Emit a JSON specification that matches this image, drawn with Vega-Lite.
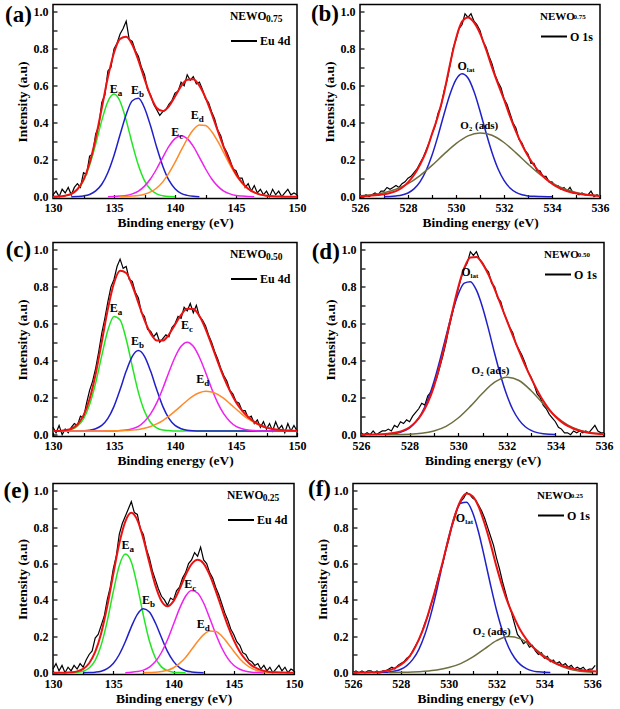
{
"$schema":"https://vega.github.io/schema/vega-lite/v6.json",
"background":"white",
"padding":{"left":2,"top":2.5,"right":0,"bottom":0},
"spacing":8,
"resolve":{"scale":{"stroke":"independent"},"legend":{"stroke":"independent"}},
"config":{
 "view":{"stroke":"black","strokeWidth":1.5},
 "axis":{"labelFont":"Liberation Serif","labelFontWeight":"bold","labelFontSize":12,"labelColor":"black","titleFont":"Liberation Serif","titleFontWeight":"bold","titleFontSize":13.5,"titleColor":"black","grid":false,"domain":false,"tickColor":"black","tickSize":-4,"tickWidth":1.2,"labelPadding":8,"labelFlush":false,"labelOverlap":false,"titlePadding":2},
 "axisY":{"titlePadding":4,"labelPadding":9},
 "legend":{"orient":"top-right","offset":6,"padding":0,"symbolType":"stroke","symbolSize":676,"symbolStrokeWidth":2,"labelFont":"Liberation Serif","labelFontWeight":"bold","labelFontSize":12,"labelColor":"black","labelOffset":2,"titleFont":"Liberation Serif","titleFontWeight":"bold","titleFontSize":11.5,"titleColor":"black","titleAnchor":"start","titlePadding":5},
 "text":{"font":"Liberation Serif","fontWeight":"bold","color":"black"}
},
"datasets":{
"labels":[
{"p":"a","k":"tag","t":"(a)","x":127.17,"y":0.985},
{"p":"b","k":"tag","t":"(b)","x":524.54,"y":0.987},
{"p":"c","k":"tag","t":"(c)","x":127.17,"y":0.997},
{"p":"d","k":"tag","t":"(d)","x":524.55,"y":0.988},
{"p":"e","k":"tag","t":"(e)","x":126.96,"y":1.0},
{"p":"f","k":"tag","t":"(f)","x":524.6,"y":1.009},
{"p":"a","k":"nsub","t":"0.75","x":147.45,"y":0.962},
{"p":"c","k":"nsub","t":"0.50","x":147.45,"y":0.962},
{"p":"e","k":"nsub","t":"0.25","x":147.4,"y":0.96},
{"p":"b","k":"nsub","t":"0.75","x":534.9,"y":0.97},
{"p":"d","k":"nsub","t":"0.50","x":534.92,"y":0.97},
{"p":"f","k":"nsub","t":"0.25","x":535.1,"y":0.969},
{"p":"a","k":"E","t":"E","u":"a","x":135.3,"y":0.582},
{"p":"a","k":"E","t":"E","u":"b","x":137.05,"y":0.579},
{"p":"a","k":"E","t":"E","u":"c","x":140.35,"y":0.35},
{"p":"a","k":"E","t":"E","u":"d","x":141.95,"y":0.44},
{"p":"c","k":"E","t":"E","u":"a","x":135.3,"y":0.688},
{"p":"c","k":"E","t":"E","u":"b","x":137.05,"y":0.508},
{"p":"c","k":"E","t":"E","u":"c","x":141.15,"y":0.596},
{"p":"c","k":"E","t":"E","u":"d","x":142.4,"y":0.3},
{"p":"e","k":"E","t":"E","u":"a","x":136.35,"y":0.704},
{"p":"e","k":"E","t":"E","u":"b","x":138.05,"y":0.4},
{"p":"e","k":"E","t":"E","u":"c","x":141.55,"y":0.49},
{"p":"e","k":"E","t":"E","u":"d","x":142.6,"y":0.267},
{"p":"b","k":"O","t":"O","u":"lat","x":530.45,"y":0.705},
{"p":"d","k":"O","t":"O","u":"lat","x":530.51,"y":0.88},
{"p":"f","k":"O","t":"O","u":"lat","x":530.69,"y":0.852},
{"p":"b","k":"ads","t":"O₂ (ads)","x":530.97,"y":0.382},
{"p":"d","k":"ads","t":"O₂ (ads)","x":531.33,"y":0.343},
{"p":"f","k":"ads","t":"O₂ (ads)","x":531.8,"y":0.221}
],
"ra":[{"x":130,"y":0.01},{"x":130.25,"y":0.03},{"x":130.5,"y":0},{"x":130.75,"y":0.04},{"x":131,"y":0.02},{"x":131.25,"y":0.05},{"x":131.5,"y":0.01},{"x":131.75,"y":0.05},{"x":132,"y":0.07},{"x":132.25,"y":0.05},{"x":132.5,"y":0.13},{"x":132.75,"y":0.12},{"x":133,"y":0.22},{"x":133.25,"y":0.23},{"x":133.5,"y":0.34},{"x":133.75,"y":0.38},{"x":134,"y":0.51},{"x":134.25,"y":0.55},{"x":134.5,"y":0.68},{"x":134.75,"y":0.7},{"x":135,"y":0.8},{"x":135.25,"y":0.83},{"x":135.5,"y":0.88},{"x":135.75,"y":0.91},{"x":136,"y":0.95},{"x":136.25,"y":0.85},{"x":136.5,"y":0.84},{"x":136.75,"y":0.79},{"x":137,"y":0.76},{"x":137.25,"y":0.7},{"x":137.5,"y":0.66},{"x":137.75,"y":0.58},{"x":138,"y":0.55},{"x":138.25,"y":0.5},{"x":138.5,"y":0.47},{"x":138.75,"y":0.44},{"x":139,"y":0.46},{"x":139.25,"y":0.47},{"x":139.5,"y":0.5},{"x":139.75,"y":0.52},{"x":140,"y":0.56},{"x":140.25,"y":0.57},{"x":140.5,"y":0.62},{"x":140.75,"y":0.6},{"x":141,"y":0.66},{"x":141.25,"y":0.63},{"x":141.5,"y":0.65},{"x":141.75,"y":0.61},{"x":142,"y":0.62},{"x":142.25,"y":0.58},{"x":142.5,"y":0.53},{"x":142.75,"y":0.51},{"x":143,"y":0.46},{"x":143.25,"y":0.42},{"x":143.5,"y":0.36},{"x":143.75,"y":0.33},{"x":144,"y":0.27},{"x":144.25,"y":0.24},{"x":144.5,"y":0.2},{"x":144.75,"y":0.15},{"x":145,"y":0.14},{"x":145.25,"y":0.1},{"x":145.5,"y":0.1},{"x":145.75,"y":0.05},{"x":146,"y":0.07},{"x":146.25,"y":0.03},{"x":146.5,"y":0.06},{"x":146.75,"y":0.02},{"x":147,"y":0.04},{"x":147.25,"y":0.01},{"x":147.5,"y":0.03},{"x":147.75,"y":0},{"x":148,"y":0.04},{"x":148.25,"y":0.01},{"x":148.5,"y":0.03},{"x":148.75,"y":0},{"x":149,"y":0.02},{"x":149.25,"y":0.04},{"x":149.5,"y":0.01},{"x":149.75,"y":0.02},{"x":150,"y":0.01}],
"ca":[
{"s":"Ea","x":130,"y":0},{"s":"Ea","x":130.5,"y":0.001},{"s":"Ea","x":131,"y":0.005},{"s":"Ea","x":131.5,"y":0.015},{"s":"Ea","x":132,"y":0.039},{"s":"Ea","x":132.5,"y":0.087},{"s":"Ea","x":133,"y":0.17},{"s":"Ea","x":133.5,"y":0.285},{"s":"Ea","x":134,"y":0.413},{"s":"Ea","x":134.5,"y":0.515},{"s":"Ea","x":135,"y":0.555},{"s":"Ea","x":135.5,"y":0.515},{"s":"Ea","x":136,"y":0.413},{"s":"Ea","x":136.5,"y":0.285},{"s":"Ea","x":137,"y":0.17},{"s":"Ea","x":137.5,"y":0.087},{"s":"Ea","x":138,"y":0.039},{"s":"Ea","x":138.5,"y":0.015},{"s":"Ea","x":139,"y":0.005},{"s":"Ea","x":139.5,"y":0.001},{"s":"Ea","x":140,"y":0},
{"s":"Eb","x":131.5,"y":0},{"s":"Eb","x":132,"y":0.001},{"s":"Eb","x":132.5,"y":0.004},{"s":"Eb","x":133,"y":0.012},{"s":"Eb","x":133.5,"y":0.031},{"s":"Eb","x":134,"y":0.067},{"s":"Eb","x":134.5,"y":0.131},{"s":"Eb","x":135,"y":0.223},{"s":"Eb","x":135.5,"y":0.336},{"s":"Eb","x":136,"y":0.445},{"s":"Eb","x":136.5,"y":0.519},{"s":"Eb","x":137,"y":0.532},{"s":"Eb","x":137.5,"y":0.48},{"s":"Eb","x":138,"y":0.382},{"s":"Eb","x":138.5,"y":0.267},{"s":"Eb","x":139,"y":0.165},{"s":"Eb","x":139.5,"y":0.089},{"s":"Eb","x":140,"y":0.043},{"s":"Eb","x":140.5,"y":0.018},{"s":"Eb","x":141,"y":0.007},{"s":"Eb","x":141.5,"y":0.002},{"s":"Eb","x":142,"y":0},
{"s":"Ec","x":134.5,"y":0},{"s":"Ec","x":135,"y":0.001},{"s":"Ec","x":135.5,"y":0.003},{"s":"Ec","x":136,"y":0.006},{"s":"Ec","x":136.5,"y":0.015},{"s":"Ec","x":137,"y":0.03},{"s":"Ec","x":137.5,"y":0.057},{"s":"Ec","x":138,"y":0.097},{"s":"Ec","x":138.5,"y":0.151},{"s":"Ec","x":139,"y":0.213},{"s":"Ec","x":139.5,"y":0.272},{"s":"Ec","x":140,"y":0.314},{"s":"Ec","x":140.5,"y":0.33},{"s":"Ec","x":141,"y":0.314},{"s":"Ec","x":141.5,"y":0.272},{"s":"Ec","x":142,"y":0.213},{"s":"Ec","x":142.5,"y":0.151},{"s":"Ec","x":143,"y":0.097},{"s":"Ec","x":143.5,"y":0.057},{"s":"Ec","x":144,"y":0.03},{"s":"Ec","x":144.5,"y":0.015},{"s":"Ec","x":145,"y":0.006},{"s":"Ec","x":145.5,"y":0.003},{"s":"Ec","x":146,"y":0.001},{"s":"Ec","x":146.5,"y":0},
{"s":"Ed","x":135.5,"y":0},{"s":"Ed","x":136,"y":0.001},{"s":"Ed","x":136.5,"y":0.003},{"s":"Ed","x":137,"y":0.006},{"s":"Ed","x":137.5,"y":0.013},{"s":"Ed","x":138,"y":0.026},{"s":"Ed","x":138.5,"y":0.047},{"s":"Ed","x":139,"y":0.08},{"s":"Ed","x":139.5,"y":0.127},{"s":"Ed","x":140,"y":0.185},{"s":"Ed","x":140.5,"y":0.25},{"s":"Ed","x":141,"y":0.312},{"s":"Ed","x":141.5,"y":0.362},{"s":"Ed","x":142,"y":0.388},{"s":"Ed","x":142.5,"y":0.385},{"s":"Ed","x":143,"y":0.353},{"s":"Ed","x":143.5,"y":0.3},{"s":"Ed","x":144,"y":0.237},{"s":"Ed","x":144.5,"y":0.173},{"s":"Ed","x":145,"y":0.116},{"s":"Ed","x":145.5,"y":0.073},{"s":"Ed","x":146,"y":0.042},{"s":"Ed","x":146.5,"y":0.023},{"s":"Ed","x":147,"y":0.011},{"s":"Ed","x":147.5,"y":0.005},{"s":"Ed","x":148,"y":0.002},{"s":"Ed","x":148.5,"y":0.001},{"s":"Ed","x":149,"y":0},
{"s":"fit","x":130,"y":0},{"s":"fit","x":130.5,"y":0.001},{"s":"fit","x":131,"y":0.005},{"s":"fit","x":131.5,"y":0.015},{"s":"fit","x":132,"y":0.04},{"s":"fit","x":132.5,"y":0.091},{"s":"fit","x":133,"y":0.182},{"s":"fit","x":133.5,"y":0.316},{"s":"fit","x":134,"y":0.48},{"s":"fit","x":134.5,"y":0.646},{"s":"fit","x":135,"y":0.779},{"s":"fit","x":135.5,"y":0.854},{"s":"fit","x":136,"y":0.865},{"s":"fit","x":136.5,"y":0.822},{"s":"fit","x":137,"y":0.738},{"s":"fit","x":137.5,"y":0.637},{"s":"fit","x":138,"y":0.544},{"s":"fit","x":138.5,"y":0.48},{"s":"fit","x":139,"y":0.463},{"s":"fit","x":139.5,"y":0.489},{"s":"fit","x":140,"y":0.542},{"s":"fit","x":140.5,"y":0.598},{"s":"fit","x":141,"y":0.633},{"s":"fit","x":141.5,"y":0.636},{"s":"fit","x":142,"y":0.601},{"s":"fit","x":142.5,"y":0.536},{"s":"fit","x":143,"y":0.45},{"s":"fit","x":143.5,"y":0.357},{"s":"fit","x":144,"y":0.267},{"s":"fit","x":144.5,"y":0.188},{"s":"fit","x":145,"y":0.122},{"s":"fit","x":145.5,"y":0.076},{"s":"fit","x":146,"y":0.043},{"s":"fit","x":146.5,"y":0.023},{"s":"fit","x":147,"y":0.011},{"s":"fit","x":147.5,"y":0.005},{"s":"fit","x":148,"y":0.002},{"s":"fit","x":148.5,"y":0.001},{"s":"fit","x":149,"y":0},{"s":"fit","x":150,"y":0}
],
"rc":[{"x":130,"y":0.04},{"x":130.25,"y":0.01},{"x":130.5,"y":0.05},{"x":130.75,"y":0},{"x":131,"y":0.03},{"x":131.25,"y":0.01},{"x":131.5,"y":0.04},{"x":131.75,"y":0.06},{"x":132,"y":0.05},{"x":132.25,"y":0.1},{"x":132.5,"y":0.09},{"x":132.75,"y":0.17},{"x":133,"y":0.24},{"x":133.25,"y":0.29},{"x":133.5,"y":0.36},{"x":133.75,"y":0.45},{"x":134,"y":0.55},{"x":134.25,"y":0.63},{"x":134.5,"y":0.72},{"x":134.75,"y":0.8},{"x":135,"y":0.84},{"x":135.25,"y":0.91},{"x":135.5,"y":0.95},{"x":135.75,"y":0.9},{"x":136,"y":0.91},{"x":136.25,"y":0.84},{"x":136.5,"y":0.83},{"x":136.75,"y":0.77},{"x":137,"y":0.74},{"x":137.25,"y":0.66},{"x":137.5,"y":0.64},{"x":137.75,"y":0.57},{"x":138,"y":0.56},{"x":138.25,"y":0.53},{"x":138.5,"y":0.55},{"x":138.75,"y":0.5},{"x":139,"y":0.52},{"x":139.25,"y":0.54},{"x":139.5,"y":0.53},{"x":139.75,"y":0.58},{"x":140,"y":0.6},{"x":140.25,"y":0.64},{"x":140.5,"y":0.63},{"x":140.75,"y":0.69},{"x":141,"y":0.67},{"x":141.25,"y":0.71},{"x":141.5,"y":0.66},{"x":141.75,"y":0.7},{"x":142,"y":0.64},{"x":142.25,"y":0.62},{"x":142.5,"y":0.59},{"x":142.75,"y":0.54},{"x":143,"y":0.5},{"x":143.25,"y":0.45},{"x":143.5,"y":0.41},{"x":143.75,"y":0.36},{"x":144,"y":0.32},{"x":144.25,"y":0.29},{"x":144.5,"y":0.24},{"x":144.75,"y":0.22},{"x":145,"y":0.18},{"x":145.25,"y":0.17},{"x":145.5,"y":0.13},{"x":145.75,"y":0.13},{"x":146,"y":0.09},{"x":146.25,"y":0.1},{"x":146.5,"y":0.06},{"x":146.75,"y":0.08},{"x":147,"y":0.04},{"x":147.25,"y":0.07},{"x":147.5,"y":0.03},{"x":147.75,"y":0.06},{"x":148,"y":0.02},{"x":148.25,"y":0.07},{"x":148.5,"y":0.03},{"x":148.75,"y":0.05},{"x":149,"y":0.01},{"x":149.25,"y":0.06},{"x":149.5,"y":0.02},{"x":149.75,"y":0.05},{"x":150,"y":0.02}],
"cc":[
{"s":"Ea","x":130,"y":0.02},{"s":"Ea","x":130.5,"y":0.021},{"s":"Ea","x":131,"y":0.022},{"s":"Ea","x":131.5,"y":0.029},{"s":"Ea","x":132,"y":0.046},{"s":"Ea","x":132.5,"y":0.086},{"s":"Ea","x":133,"y":0.163},{"s":"Ea","x":133.5,"y":0.281},{"s":"Ea","x":134,"y":0.429},{"s":"Ea","x":134.5,"y":0.566},{"s":"Ea","x":135,"y":0.64},{"s":"Ea","x":135.5,"y":0.621},{"s":"Ea","x":136,"y":0.516},{"s":"Ea","x":136.5,"y":0.369},{"s":"Ea","x":137,"y":0.229},{"s":"Ea","x":137.5,"y":0.127},{"s":"Ea","x":138,"y":0.066},{"s":"Ea","x":138.5,"y":0.037},{"s":"Ea","x":139,"y":0.025},{"s":"Ea","x":139.5,"y":0.022},{"s":"Ea","x":140,"y":0.02},{"s":"Ea","x":150,"y":0.02},
{"s":"Eb","x":130,"y":0.02},{"s":"Eb","x":132,"y":0.02},{"s":"Eb","x":132.5,"y":0.021},{"s":"Eb","x":133,"y":0.024},{"s":"Eb","x":133.5,"y":0.032},{"s":"Eb","x":134,"y":0.05},{"s":"Eb","x":134.5,"y":0.088},{"s":"Eb","x":135,"y":0.153},{"s":"Eb","x":135.5,"y":0.244},{"s":"Eb","x":136,"y":0.344},{"s":"Eb","x":136.5,"y":0.424},{"s":"Eb","x":137,"y":0.455},{"s":"Eb","x":137.5,"y":0.424},{"s":"Eb","x":138,"y":0.344},{"s":"Eb","x":138.5,"y":0.244},{"s":"Eb","x":139,"y":0.153},{"s":"Eb","x":139.5,"y":0.088},{"s":"Eb","x":140,"y":0.05},{"s":"Eb","x":140.5,"y":0.032},{"s":"Eb","x":141,"y":0.024},{"s":"Eb","x":141.5,"y":0.021},{"s":"Eb","x":142,"y":0.02},{"s":"Eb","x":150,"y":0.02},
{"s":"Ec","x":130,"y":0.02},{"s":"Ec","x":135,"y":0.02},{"s":"Ec","x":135.5,"y":0.022},{"s":"Ec","x":136,"y":0.025},{"s":"Ec","x":136.5,"y":0.032},{"s":"Ec","x":137,"y":0.045},{"s":"Ec","x":137.5,"y":0.071},{"s":"Ec","x":138,"y":0.112},{"s":"Ec","x":138.5,"y":0.172},{"s":"Ec","x":139,"y":0.25},{"s":"Ec","x":139.5,"y":0.338},{"s":"Ec","x":140,"y":0.419},{"s":"Ec","x":140.5,"y":0.478},{"s":"Ec","x":141,"y":0.5},{"s":"Ec","x":141.5,"y":0.478},{"s":"Ec","x":142,"y":0.419},{"s":"Ec","x":142.5,"y":0.338},{"s":"Ec","x":143,"y":0.25},{"s":"Ec","x":143.5,"y":0.172},{"s":"Ec","x":144,"y":0.112},{"s":"Ec","x":144.5,"y":0.071},{"s":"Ec","x":145,"y":0.045},{"s":"Ec","x":145.5,"y":0.032},{"s":"Ec","x":146,"y":0.025},{"s":"Ec","x":146.5,"y":0.022},{"s":"Ec","x":147,"y":0.02},{"s":"Ec","x":150,"y":0.02},
{"s":"Ed","x":130,"y":0.02},{"s":"Ed","x":134,"y":0.02},{"s":"Ed","x":135,"y":0.021},{"s":"Ed","x":136,"y":0.022},{"s":"Ed","x":136.5,"y":0.025},{"s":"Ed","x":137,"y":0.028},{"s":"Ed","x":137.5,"y":0.035},{"s":"Ed","x":138,"y":0.044},{"s":"Ed","x":138.5,"y":0.058},{"s":"Ed","x":139,"y":0.076},{"s":"Ed","x":139.5,"y":0.1},{"s":"Ed","x":140,"y":0.127},{"s":"Ed","x":140.5,"y":0.156},{"s":"Ed","x":141,"y":0.185},{"s":"Ed","x":141.5,"y":0.21},{"s":"Ed","x":142,"y":0.227},{"s":"Ed","x":142.5,"y":0.235},{"s":"Ed","x":143,"y":0.231},{"s":"Ed","x":143.5,"y":0.218},{"s":"Ed","x":144,"y":0.196},{"s":"Ed","x":144.5,"y":0.168},{"s":"Ed","x":145,"y":0.139},{"s":"Ed","x":145.5,"y":0.11},{"s":"Ed","x":146,"y":0.085},{"s":"Ed","x":146.5,"y":0.065},{"s":"Ed","x":147,"y":0.049},{"s":"Ed","x":147.5,"y":0.038},{"s":"Ed","x":148,"y":0.031},{"s":"Ed","x":148.5,"y":0.026},{"s":"Ed","x":149,"y":0.023},{"s":"Ed","x":149.5,"y":0.022},{"s":"Ed","x":150,"y":0.021},
{"s":"fit","x":130,"y":0.02},{"s":"fit","x":130.5,"y":0.02},{"s":"fit","x":131,"y":0.024},{"s":"fit","x":131.5,"y":0.032},{"s":"fit","x":132,"y":0.055},{"s":"fit","x":132.5,"y":0.104},{"s":"fit","x":133,"y":0.193},{"s":"fit","x":133.5,"y":0.33},{"s":"fit","x":134,"y":0.503},{"s":"fit","x":134.5,"y":0.681},{"s":"fit","x":135,"y":0.821},{"s":"fit","x":135.5,"y":0.887},{"s":"fit","x":136,"y":0.875},{"s":"fit","x":136.5,"y":0.807},{"s":"fit","x":137,"y":0.713},{"s":"fit","x":137.5,"y":0.62},{"s":"fit","x":138,"y":0.548},{"s":"fit","x":138.5,"y":0.51},{"s":"fit","x":139,"y":0.509},{"s":"fit","x":139.5,"y":0.542},{"s":"fit","x":140,"y":0.595},{"s":"fit","x":140.5,"y":0.648},{"s":"fit","x":141,"y":0.681},{"s":"fit","x":141.5,"y":0.68},{"s":"fit","x":142,"y":0.642},{"s":"fit","x":142.5,"y":0.573},{"s":"fit","x":143,"y":0.486},{"s":"fit","x":143.5,"y":0.395},{"s":"fit","x":144,"y":0.31},{"s":"fit","x":144.5,"y":0.237},{"s":"fit","x":145,"y":0.176},{"s":"fit","x":145.5,"y":0.13},{"s":"fit","x":146,"y":0.095},{"s":"fit","x":146.5,"y":0.069},{"s":"fit","x":147,"y":0.051},{"s":"fit","x":147.5,"y":0.038},{"s":"fit","x":148,"y":0.031},{"s":"fit","x":148.5,"y":0.026},{"s":"fit","x":149,"y":0.023},{"s":"fit","x":149.5,"y":0.022},{"s":"fit","x":150,"y":0.021}
],
"re":[{"x":130,"y":0.02},{"x":130.25,"y":0.05},{"x":130.5,"y":0.01},{"x":130.75,"y":0.04},{"x":131,"y":0},{"x":131.25,"y":0.03},{"x":131.5,"y":0.01},{"x":131.75,"y":0.04},{"x":132,"y":0.02},{"x":132.25,"y":0.05},{"x":132.5,"y":0.03},{"x":132.75,"y":0.07},{"x":133,"y":0.1},{"x":133.25,"y":0.12},{"x":133.5,"y":0.19},{"x":133.75,"y":0.21},{"x":134,"y":0.26},{"x":134.25,"y":0.31},{"x":134.5,"y":0.4},{"x":134.75,"y":0.47},{"x":135,"y":0.57},{"x":135.25,"y":0.64},{"x":135.5,"y":0.76},{"x":135.75,"y":0.82},{"x":136,"y":0.86},{"x":136.25,"y":0.9},{"x":136.5,"y":0.94},{"x":136.75,"y":0.88},{"x":137,"y":0.87},{"x":137.25,"y":0.79},{"x":137.5,"y":0.76},{"x":137.75,"y":0.68},{"x":138,"y":0.63},{"x":138.25,"y":0.56},{"x":138.5,"y":0.51},{"x":138.75,"y":0.46},{"x":139,"y":0.42},{"x":139.25,"y":0.4},{"x":139.5,"y":0.37},{"x":139.75,"y":0.41},{"x":140,"y":0.4},{"x":140.25,"y":0.45},{"x":140.5,"y":0.47},{"x":140.75,"y":0.52},{"x":141,"y":0.55},{"x":141.25,"y":0.6},{"x":141.5,"y":0.62},{"x":141.75,"y":0.66},{"x":142,"y":0.64},{"x":142.25,"y":0.69},{"x":142.5,"y":0.62},{"x":142.75,"y":0.6},{"x":143,"y":0.55},{"x":143.25,"y":0.52},{"x":143.5,"y":0.47},{"x":143.75,"y":0.43},{"x":144,"y":0.38},{"x":144.25,"y":0.33},{"x":144.5,"y":0.29},{"x":144.75,"y":0.24},{"x":145,"y":0.21},{"x":145.25,"y":0.17},{"x":145.5,"y":0.15},{"x":145.75,"y":0.11},{"x":146,"y":0.1},{"x":146.25,"y":0.07},{"x":146.5,"y":0.06},{"x":146.75,"y":0.04},{"x":147,"y":0.05},{"x":147.25,"y":0.02},{"x":147.5,"y":0.04},{"x":147.75,"y":0.01},{"x":148,"y":0.03},{"x":148.25,"y":0},{"x":148.5,"y":0.02},{"x":148.75,"y":0.04},{"x":149,"y":0.01},{"x":149.25,"y":0.03},{"x":149.5,"y":0},{"x":149.75,"y":0.02},{"x":150,"y":0.01}],
"ce":[
{"s":"Ea","x":131.5,"y":0},{"s":"Ea","x":132,"y":0.002},{"s":"Ea","x":132.5,"y":0.008},{"s":"Ea","x":133,"y":0.026},{"s":"Ea","x":133.5,"y":0.068},{"s":"Ea","x":134,"y":0.152},{"s":"Ea","x":134.5,"y":0.283},{"s":"Ea","x":135,"y":0.445},{"s":"Ea","x":135.5,"y":0.588},{"s":"Ea","x":136,"y":0.652},{"s":"Ea","x":136.5,"y":0.609},{"s":"Ea","x":137,"y":0.477},{"s":"Ea","x":137.5,"y":0.315},{"s":"Ea","x":138,"y":0.174},{"s":"Ea","x":138.5,"y":0.081},{"s":"Ea","x":139,"y":0.032},{"s":"Ea","x":139.5,"y":0.011},{"s":"Ea","x":140,"y":0.003},{"s":"Ea","x":140.5,"y":0.001},{"s":"Ea","x":141,"y":0},
{"s":"Eb","x":132.5,"y":0},{"s":"Eb","x":133,"y":0.001},{"s":"Eb","x":133.5,"y":0.003},{"s":"Eb","x":134,"y":0.008},{"s":"Eb","x":134.5,"y":0.022},{"s":"Eb","x":135,"y":0.05},{"s":"Eb","x":135.5,"y":0.1},{"s":"Eb","x":136,"y":0.17},{"s":"Eb","x":136.5,"y":0.252},{"s":"Eb","x":137,"y":0.321},{"s":"Eb","x":137.5,"y":0.352},{"s":"Eb","x":138,"y":0.334},{"s":"Eb","x":138.5,"y":0.273},{"s":"Eb","x":139,"y":0.193},{"s":"Eb","x":139.5,"y":0.117},{"s":"Eb","x":140,"y":0.062},{"s":"Eb","x":140.5,"y":0.028},{"s":"Eb","x":141,"y":0.011},{"s":"Eb","x":141.5,"y":0.004},{"s":"Eb","x":142,"y":0.001},{"s":"Eb","x":142.5,"y":0},
{"s":"Ec","x":136,"y":0},{"s":"Ec","x":136.5,"y":0.002},{"s":"Ec","x":137,"y":0.006},{"s":"Ec","x":137.5,"y":0.014},{"s":"Ec","x":138,"y":0.031},{"s":"Ec","x":138.5,"y":0.061},{"s":"Ec","x":139,"y":0.111},{"s":"Ec","x":139.5,"y":0.181},{"s":"Ec","x":140,"y":0.266},{"s":"Ec","x":140.5,"y":0.352},{"s":"Ec","x":141,"y":0.42},{"s":"Ec","x":141.5,"y":0.452},{"s":"Ec","x":142,"y":0.438},{"s":"Ec","x":142.5,"y":0.383},{"s":"Ec","x":143,"y":0.301},{"s":"Ec","x":143.5,"y":0.214},{"s":"Ec","x":144,"y":0.137},{"s":"Ec","x":144.5,"y":0.079},{"s":"Ec","x":145,"y":0.041},{"s":"Ec","x":145.5,"y":0.019},{"s":"Ec","x":146,"y":0.008},{"s":"Ec","x":146.5,"y":0.003},{"s":"Ec","x":147,"y":0.001},{"s":"Ec","x":147.5,"y":0},
{"s":"Ed","x":137.5,"y":0},{"s":"Ed","x":138,"y":0.001},{"s":"Ed","x":138.5,"y":0.002},{"s":"Ed","x":139,"y":0.006},{"s":"Ed","x":139.5,"y":0.013},{"s":"Ed","x":140,"y":0.027},{"s":"Ed","x":140.5,"y":0.051},{"s":"Ed","x":141,"y":0.084},{"s":"Ed","x":141.5,"y":0.127},{"s":"Ed","x":142,"y":0.171},{"s":"Ed","x":142.5,"y":0.209},{"s":"Ed","x":143,"y":0.229},{"s":"Ed","x":143.5,"y":0.227},{"s":"Ed","x":144,"y":0.202},{"s":"Ed","x":144.5,"y":0.162},{"s":"Ed","x":145,"y":0.118},{"s":"Ed","x":145.5,"y":0.077},{"s":"Ed","x":146,"y":0.045},{"s":"Ed","x":146.5,"y":0.024},{"s":"Ed","x":147,"y":0.011},{"s":"Ed","x":147.5,"y":0.005},{"s":"Ed","x":148,"y":0.002},{"s":"Ed","x":148.5,"y":0.001},{"s":"Ed","x":149,"y":0},
{"s":"fit","x":130,"y":0},{"s":"fit","x":131,"y":0},{"s":"fit","x":131.5,"y":0.002},{"s":"fit","x":132,"y":0.007},{"s":"fit","x":132.5,"y":0.021},{"s":"fit","x":133,"y":0.052},{"s":"fit","x":133.5,"y":0.114},{"s":"fit","x":134,"y":0.217},{"s":"fit","x":134.5,"y":0.365},{"s":"fit","x":135,"y":0.541},{"s":"fit","x":135.5,"y":0.71},{"s":"fit","x":136,"y":0.831},{"s":"fit","x":136.5,"y":0.879},{"s":"fit","x":137,"y":0.839},{"s":"fit","x":137.5,"y":0.737},{"s":"fit","x":138,"y":0.604},{"s":"fit","x":138.5,"y":0.479},{"s":"fit","x":139,"y":0.394},{"s":"fit","x":139.5,"y":0.365},{"s":"fit","x":140,"y":0.393},{"s":"fit","x":140.5,"y":0.459},{"s":"fit","x":141,"y":0.537},{"s":"fit","x":141.5,"y":0.597},{"s":"fit","x":142,"y":0.621},{"s":"fit","x":142.5,"y":0.6},{"s":"fit","x":143,"y":0.538},{"s":"fit","x":143.5,"y":0.451},{"s":"fit","x":144,"y":0.354},{"s":"fit","x":144.5,"y":0.26},{"s":"fit","x":145,"y":0.179},{"s":"fit","x":145.5,"y":0.115},{"s":"fit","x":146,"y":0.07},{"s":"fit","x":146.5,"y":0.039},{"s":"fit","x":147,"y":0.021},{"s":"fit","x":147.5,"y":0.01},{"s":"fit","x":148,"y":0.004},{"s":"fit","x":148.5,"y":0.002},{"s":"fit","x":149,"y":0.001},{"s":"fit","x":150,"y":0}
],
"rb":[{"x":526,"y":0.01},{"x":526.125,"y":0},{"x":526.25,"y":0.01},{"x":526.375,"y":0},{"x":526.5,"y":0.01},{"x":526.625,"y":0.02},{"x":526.75,"y":0.01},{"x":526.875,"y":0.03},{"x":527,"y":0.03},{"x":527.125,"y":0.05},{"x":527.25,"y":0.04},{"x":527.375,"y":0.05},{"x":527.5,"y":0.06},{"x":527.625,"y":0.05},{"x":527.75,"y":0.07},{"x":527.875,"y":0.08},{"x":528,"y":0.1},{"x":528.125,"y":0.11},{"x":528.25,"y":0.13},{"x":528.375,"y":0.15},{"x":528.5,"y":0.18},{"x":528.625,"y":0.21},{"x":528.75,"y":0.25},{"x":528.875,"y":0.29},{"x":529,"y":0.34},{"x":529.125,"y":0.38},{"x":529.25,"y":0.45},{"x":529.375,"y":0.49},{"x":529.5,"y":0.57},{"x":529.625,"y":0.63},{"x":529.75,"y":0.71},{"x":529.875,"y":0.8},{"x":530,"y":0.85},{"x":530.125,"y":0.91},{"x":530.25,"y":0.93},{"x":530.375,"y":0.99},{"x":530.5,"y":0.97},{"x":530.625,"y":0.99},{"x":530.75,"y":0.95},{"x":530.875,"y":0.93},{"x":531,"y":0.9},{"x":531.125,"y":0.84},{"x":531.25,"y":0.81},{"x":531.375,"y":0.76},{"x":531.5,"y":0.72},{"x":531.625,"y":0.66},{"x":531.75,"y":0.62},{"x":531.875,"y":0.59},{"x":532,"y":0.53},{"x":532.125,"y":0.5},{"x":532.25,"y":0.45},{"x":532.375,"y":0.4},{"x":532.5,"y":0.37},{"x":532.625,"y":0.31},{"x":532.75,"y":0.29},{"x":532.875,"y":0.25},{"x":533,"y":0.23},{"x":533.125,"y":0.18},{"x":533.25,"y":0.18},{"x":533.375,"y":0.14},{"x":533.5,"y":0.14},{"x":533.625,"y":0.11},{"x":533.75,"y":0.11},{"x":533.875,"y":0.08},{"x":534,"y":0.08},{"x":534.125,"y":0.06},{"x":534.25,"y":0.06},{"x":534.375,"y":0.04},{"x":534.5,"y":0.05},{"x":534.625,"y":0.03},{"x":534.75,"y":0.05},{"x":534.875,"y":0.02},{"x":535,"y":0.02},{"x":535.125,"y":0.01},{"x":535.25,"y":0.02},{"x":535.375,"y":0.01},{"x":535.5,"y":0.01},{"x":535.625,"y":0.03},{"x":535.75,"y":0},{"x":535.875,"y":0.01},{"x":536,"y":0}],
"cb":[
{"s":"Olat","x":527,"y":0},{"s":"Olat","x":527.25,"y":0.001},{"s":"Olat","x":527.5,"y":0.004},{"s":"Olat","x":527.75,"y":0.009},{"s":"Olat","x":528,"y":0.02},{"s":"Olat","x":528.25,"y":0.042},{"s":"Olat","x":528.5,"y":0.08},{"s":"Olat","x":528.75,"y":0.14},{"s":"Olat","x":529,"y":0.224},{"s":"Olat","x":529.25,"y":0.329},{"s":"Olat","x":529.5,"y":0.446},{"s":"Olat","x":529.75,"y":0.554},{"s":"Olat","x":530,"y":0.633},{"s":"Olat","x":530.25,"y":0.665},{"s":"Olat","x":530.5,"y":0.642},{"s":"Olat","x":530.75,"y":0.569},{"s":"Olat","x":531,"y":0.464},{"s":"Olat","x":531.25,"y":0.347},{"s":"Olat","x":531.5,"y":0.239},{"s":"Olat","x":531.75,"y":0.151},{"s":"Olat","x":532,"y":0.088},{"s":"Olat","x":532.25,"y":0.047},{"s":"Olat","x":532.5,"y":0.023},{"s":"Olat","x":532.75,"y":0.01},{"s":"Olat","x":533,"y":0.004},{"s":"Olat","x":533.25,"y":0.002},{"s":"Olat","x":533.5,"y":0.001},{"s":"Olat","x":534,"y":0},
{"s":"Oads","x":526,"y":0.004},{"s":"Oads","x":526.5,"y":0.01},{"s":"Oads","x":527,"y":0.021},{"s":"Oads","x":527.5,"y":0.04},{"s":"Oads","x":528,"y":0.07},{"s":"Oads","x":528.5,"y":0.114},{"s":"Oads","x":529,"y":0.169},{"s":"Oads","x":529.5,"y":0.23},{"s":"Oads","x":530,"y":0.287},{"s":"Oads","x":530.5,"y":0.329},{"s":"Oads","x":531,"y":0.345},{"s":"Oads","x":531.5,"y":0.332},{"s":"Oads","x":532,"y":0.293},{"s":"Oads","x":532.5,"y":0.237},{"s":"Oads","x":533,"y":0.176},{"s":"Oads","x":533.5,"y":0.12},{"s":"Oads","x":534,"y":0.075},{"s":"Oads","x":534.5,"y":0.043},{"s":"Oads","x":535,"y":0.023},{"s":"Oads","x":535.5,"y":0.011},{"s":"Oads","x":536,"y":0.005},
{"s":"fit","x":526,"y":0.003},{"s":"fit","x":526.25,"y":0.004},{"s":"fit","x":526.5,"y":0.006},{"s":"fit","x":526.75,"y":0.009},{"s":"fit","x":527,"y":0.013},{"s":"fit","x":527.25,"y":0.02},{"s":"fit","x":527.5,"y":0.03},{"s":"fit","x":527.75,"y":0.048},{"s":"fit","x":528,"y":0.077},{"s":"fit","x":528.25,"y":0.117},{"s":"fit","x":528.5,"y":0.173},{"s":"fit","x":528.75,"y":0.242},{"s":"fit","x":529,"y":0.339},{"s":"fit","x":529.25,"y":0.437},{"s":"fit","x":529.5,"y":0.56},{"s":"fit","x":529.75,"y":0.717},{"s":"fit","x":530,"y":0.856},{"s":"fit","x":530.25,"y":0.947},{"s":"fit","x":530.5,"y":0.97},{"s":"fit","x":530.75,"y":0.943},{"s":"fit","x":531,"y":0.884},{"s":"fit","x":531.25,"y":0.798},{"s":"fit","x":531.5,"y":0.7},{"s":"fit","x":531.75,"y":0.61},{"s":"fit","x":532,"y":0.526},{"s":"fit","x":532.25,"y":0.434},{"s":"fit","x":532.5,"y":0.352},{"s":"fit","x":532.75,"y":0.281},{"s":"fit","x":533,"y":0.22},{"s":"fit","x":533.25,"y":0.17},{"s":"fit","x":533.5,"y":0.129},{"s":"fit","x":533.75,"y":0.095},{"s":"fit","x":534,"y":0.07},{"s":"fit","x":534.25,"y":0.05},{"s":"fit","x":534.5,"y":0.035},{"s":"fit","x":534.75,"y":0.025},{"s":"fit","x":535,"y":0.018},{"s":"fit","x":535.25,"y":0.013},{"s":"fit","x":535.5,"y":0.009},{"s":"fit","x":535.75,"y":0.006},{"s":"fit","x":536,"y":0.004}
],
"rd":[{"x":526,"y":0.01},{"x":526.125,"y":0},{"x":526.25,"y":0.01},{"x":526.375,"y":0},{"x":526.5,"y":0.02},{"x":526.625,"y":0},{"x":526.75,"y":0.01},{"x":526.875,"y":0.02},{"x":527,"y":0.02},{"x":527.125,"y":0.03},{"x":527.25,"y":0.02},{"x":527.375,"y":0.05},{"x":527.5,"y":0.04},{"x":527.625,"y":0.07},{"x":527.75,"y":0.06},{"x":527.875,"y":0.08},{"x":528,"y":0.07},{"x":528.125,"y":0.1},{"x":528.25,"y":0.12},{"x":528.375,"y":0.14},{"x":528.5,"y":0.17},{"x":528.625,"y":0.16},{"x":528.75,"y":0.21},{"x":528.875,"y":0.23},{"x":529,"y":0.27},{"x":529.125,"y":0.31},{"x":529.25,"y":0.37},{"x":529.375,"y":0.43},{"x":529.5,"y":0.5},{"x":529.625,"y":0.58},{"x":529.75,"y":0.65},{"x":529.875,"y":0.72},{"x":530,"y":0.79},{"x":530.125,"y":0.85},{"x":530.25,"y":0.9},{"x":530.375,"y":0.93},{"x":530.5,"y":0.99},{"x":530.625,"y":0.97},{"x":530.75,"y":0.99},{"x":530.875,"y":0.95},{"x":531,"y":0.93},{"x":531.125,"y":0.9},{"x":531.25,"y":0.88},{"x":531.375,"y":0.82},{"x":531.5,"y":0.8},{"x":531.625,"y":0.74},{"x":531.75,"y":0.72},{"x":531.875,"y":0.66},{"x":532,"y":0.62},{"x":532.125,"y":0.58},{"x":532.25,"y":0.55},{"x":532.375,"y":0.49},{"x":532.5,"y":0.46},{"x":532.625,"y":0.43},{"x":532.75,"y":0.39},{"x":532.875,"y":0.34},{"x":533,"y":0.31},{"x":533.125,"y":0.27},{"x":533.25,"y":0.22},{"x":533.375,"y":0.2},{"x":533.5,"y":0.16},{"x":533.625,"y":0.14},{"x":533.75,"y":0.11},{"x":533.875,"y":0.09},{"x":534,"y":0.07},{"x":534.125,"y":0.04},{"x":534.25,"y":0.03},{"x":534.375,"y":0.01},{"x":534.5,"y":0.01},{"x":534.625,"y":0},{"x":534.75,"y":0.02},{"x":534.875,"y":0.01},{"x":535,"y":0.02},{"x":535.125,"y":0.01},{"x":535.25,"y":0.02},{"x":535.375,"y":0.01},{"x":535.5,"y":0.03},{"x":535.625,"y":0.05},{"x":535.75,"y":0.02},{"x":535.875,"y":0.01},{"x":536,"y":0.01}],
"cd":[
{"s":"Olat","x":527,"y":0.002},{"s":"Olat","x":527.25,"y":0.004},{"s":"Olat","x":527.5,"y":0.009},{"s":"Olat","x":527.75,"y":0.019},{"s":"Olat","x":528,"y":0.037},{"s":"Olat","x":528.25,"y":0.068},{"s":"Olat","x":528.5,"y":0.117},{"s":"Olat","x":528.75,"y":0.189},{"s":"Olat","x":529,"y":0.286},{"s":"Olat","x":529.25,"y":0.404},{"s":"Olat","x":529.5,"y":0.533},{"s":"Olat","x":529.75,"y":0.658},{"s":"Olat","x":530,"y":0.76},{"s":"Olat","x":530.25,"y":0.82},{"s":"Olat","x":530.5,"y":0.828},{"s":"Olat","x":530.75,"y":0.782},{"s":"Olat","x":531,"y":0.69},{"s":"Olat","x":531.25,"y":0.57},{"s":"Olat","x":531.5,"y":0.439},{"s":"Olat","x":531.75,"y":0.317},{"s":"Olat","x":532,"y":0.214},{"s":"Olat","x":532.25,"y":0.135},{"s":"Olat","x":532.5,"y":0.08},{"s":"Olat","x":532.75,"y":0.044},{"s":"Olat","x":533,"y":0.023},{"s":"Olat","x":533.25,"y":0.011},{"s":"Olat","x":533.5,"y":0.005},{"s":"Olat","x":533.75,"y":0.002},{"s":"Olat","x":534,"y":0.001},
{"s":"Oads","x":527,"y":0},{"s":"Oads","x":527.5,"y":0.001},{"s":"Oads","x":528,"y":0.002},{"s":"Oads","x":528.5,"y":0.007},{"s":"Oads","x":529,"y":0.02},{"s":"Oads","x":529.5,"y":0.045},{"s":"Oads","x":530,"y":0.09},{"s":"Oads","x":530.5,"y":0.153},{"s":"Oads","x":531,"y":0.224},{"s":"Oads","x":531.5,"y":0.284},{"s":"Oads","x":532,"y":0.311},{"s":"Oads","x":532.5,"y":0.293},{"s":"Oads","x":533,"y":0.238},{"s":"Oads","x":533.5,"y":0.167},{"s":"Oads","x":534,"y":0.101},{"s":"Oads","x":534.5,"y":0.053},{"s":"Oads","x":535,"y":0.024},{"s":"Oads","x":535.5,"y":0.009},{"s":"Oads","x":536,"y":0.003},
{"s":"fit","x":526,"y":0.001},{"s":"fit","x":526.5,"y":0.001},{"s":"fit","x":526.75,"y":0.002},{"s":"fit","x":527,"y":0.003},{"s":"fit","x":527.25,"y":0.007},{"s":"fit","x":527.5,"y":0.013},{"s":"fit","x":527.75,"y":0.023},{"s":"fit","x":528,"y":0.04},{"s":"fit","x":528.25,"y":0.069},{"s":"fit","x":528.5,"y":0.112},{"s":"fit","x":528.75,"y":0.174},{"s":"fit","x":529,"y":0.26},{"s":"fit","x":529.25,"y":0.378},{"s":"fit","x":529.5,"y":0.516},{"s":"fit","x":529.75,"y":0.662},{"s":"fit","x":530,"y":0.797},{"s":"fit","x":530.25,"y":0.902},{"s":"fit","x":530.5,"y":0.959},{"s":"fit","x":530.75,"y":0.961},{"s":"fit","x":531,"y":0.926},{"s":"fit","x":531.25,"y":0.865},{"s":"fit","x":531.5,"y":0.788},{"s":"fit","x":531.75,"y":0.704},{"s":"fit","x":532,"y":0.618},{"s":"fit","x":532.25,"y":0.535},{"s":"fit","x":532.5,"y":0.454},{"s":"fit","x":532.75,"y":0.376},{"s":"fit","x":533,"y":0.306},{"s":"fit","x":533.25,"y":0.241},{"s":"fit","x":533.5,"y":0.183},{"s":"fit","x":533.75,"y":0.136},{"s":"fit","x":534,"y":0.098},{"s":"fit","x":534.25,"y":0.069},{"s":"fit","x":534.5,"y":0.047},{"s":"fit","x":534.75,"y":0.032},{"s":"fit","x":535,"y":0.021},{"s":"fit","x":535.25,"y":0.013},{"s":"fit","x":535.5,"y":0.008},{"s":"fit","x":535.75,"y":0.005},{"s":"fit","x":536,"y":0.003}
],
"rf":[{"x":526,"y":0},{"x":526.125,"y":0.01},{"x":526.25,"y":0},{"x":526.375,"y":0.01},{"x":526.5,"y":0},{"x":526.625,"y":0.01},{"x":526.75,"y":0.01},{"x":526.875,"y":0},{"x":527,"y":0.01},{"x":527.125,"y":0},{"x":527.25,"y":0.01},{"x":527.375,"y":0.01},{"x":527.5,"y":0.02},{"x":527.625,"y":0.03},{"x":527.75,"y":0.02},{"x":527.875,"y":0.04},{"x":528,"y":0.05},{"x":528.125,"y":0.06},{"x":528.25,"y":0.08},{"x":528.375,"y":0.09},{"x":528.5,"y":0.12},{"x":528.625,"y":0.15},{"x":528.75,"y":0.18},{"x":528.875,"y":0.22},{"x":529,"y":0.27},{"x":529.125,"y":0.31},{"x":529.25,"y":0.37},{"x":529.375,"y":0.42},{"x":529.5,"y":0.49},{"x":529.625,"y":0.55},{"x":529.75,"y":0.6},{"x":529.875,"y":0.67},{"x":530,"y":0.73},{"x":530.125,"y":0.8},{"x":530.25,"y":0.85},{"x":530.375,"y":0.91},{"x":530.5,"y":0.94},{"x":530.625,"y":0.96},{"x":530.75,"y":0.99},{"x":530.875,"y":0.98},{"x":531,"y":0.96},{"x":531.125,"y":0.95},{"x":531.25,"y":0.92},{"x":531.375,"y":0.89},{"x":531.5,"y":0.85},{"x":531.625,"y":0.8},{"x":531.75,"y":0.75},{"x":531.875,"y":0.7},{"x":532,"y":0.63},{"x":532.125,"y":0.57},{"x":532.25,"y":0.5},{"x":532.375,"y":0.44},{"x":532.5,"y":0.38},{"x":532.625,"y":0.33},{"x":532.75,"y":0.27},{"x":532.875,"y":0.21},{"x":533,"y":0.19},{"x":533.125,"y":0.16},{"x":533.25,"y":0.17},{"x":533.375,"y":0.14},{"x":533.5,"y":0.15},{"x":533.625,"y":0.12},{"x":533.75,"y":0.1},{"x":533.875,"y":0.11},{"x":534,"y":0.08},{"x":534.125,"y":0.09},{"x":534.25,"y":0.06},{"x":534.375,"y":0.07},{"x":534.5,"y":0.05},{"x":534.625,"y":0.06},{"x":534.75,"y":0.04},{"x":534.875,"y":0.05},{"x":535,"y":0.03},{"x":535.125,"y":0.04},{"x":535.25,"y":0.02},{"x":535.375,"y":0.03},{"x":535.5,"y":0.02},{"x":535.625,"y":0.03},{"x":535.75,"y":0.01},{"x":535.875,"y":0.02},{"x":536,"y":0.02},{"x":536.125,"y":0.04}],
"cf":[
{"s":"Olat","x":527,"y":0},{"s":"Olat","x":527.25,"y":0.002},{"s":"Olat","x":527.5,"y":0.004},{"s":"Olat","x":527.75,"y":0.009},{"s":"Olat","x":528,"y":0.019},{"s":"Olat","x":528.25,"y":0.039},{"s":"Olat","x":528.5,"y":0.073},{"s":"Olat","x":528.75,"y":0.127},{"s":"Olat","x":529,"y":0.208},{"s":"Olat","x":529.25,"y":0.318},{"s":"Olat","x":529.5,"y":0.452},{"s":"Olat","x":529.75,"y":0.602},{"s":"Olat","x":530,"y":0.745},{"s":"Olat","x":530.25,"y":0.862},{"s":"Olat","x":530.5,"y":0.931},{"s":"Olat","x":530.75,"y":0.937},{"s":"Olat","x":531,"y":0.881},{"s":"Olat","x":531.25,"y":0.772},{"s":"Olat","x":531.5,"y":0.631},{"s":"Olat","x":531.75,"y":0.482},{"s":"Olat","x":532,"y":0.343},{"s":"Olat","x":532.25,"y":0.228},{"s":"Olat","x":532.5,"y":0.141},{"s":"Olat","x":532.75,"y":0.082},{"s":"Olat","x":533,"y":0.044},{"s":"Olat","x":533.25,"y":0.022},{"s":"Olat","x":533.5,"y":0.01},{"s":"Olat","x":533.75,"y":0.005},{"s":"Olat","x":534,"y":0.002},{"s":"Olat","x":534.25,"y":0.001},
{"s":"Oads","x":527.5,"y":0.001},{"s":"Oads","x":528,"y":0.002},{"s":"Oads","x":528.5,"y":0.004},{"s":"Oads","x":529,"y":0.008},{"s":"Oads","x":529.5,"y":0.015},{"s":"Oads","x":530,"y":0.028},{"s":"Oads","x":530.5,"y":0.05},{"s":"Oads","x":531,"y":0.085},{"s":"Oads","x":531.5,"y":0.131},{"s":"Oads","x":532,"y":0.176},{"s":"Oads","x":532.5,"y":0.199},{"s":"Oads","x":533,"y":0.186},{"s":"Oads","x":533.5,"y":0.143},{"s":"Oads","x":534,"y":0.092},{"s":"Oads","x":534.5,"y":0.049},{"s":"Oads","x":535,"y":0.021},{"s":"Oads","x":535.5,"y":0.008},{"s":"Oads","x":536,"y":0.002},
{"s":"fit","x":526,"y":0.001},{"s":"fit","x":526.5,"y":0.001},{"s":"fit","x":526.75,"y":0.002},{"s":"fit","x":527,"y":0.003},{"s":"fit","x":527.25,"y":0.007},{"s":"fit","x":527.5,"y":0.013},{"s":"fit","x":527.75,"y":0.025},{"s":"fit","x":528,"y":0.044},{"s":"fit","x":528.25,"y":0.072},{"s":"fit","x":528.5,"y":0.117},{"s":"fit","x":528.75,"y":0.182},{"s":"fit","x":529,"y":0.263},{"s":"fit","x":529.25,"y":0.37},{"s":"fit","x":529.5,"y":0.483},{"s":"fit","x":529.75,"y":0.609},{"s":"fit","x":530,"y":0.739},{"s":"fit","x":530.25,"y":0.86},{"s":"fit","x":530.5,"y":0.947},{"s":"fit","x":530.75,"y":0.985},{"s":"fit","x":531,"y":0.97},{"s":"fit","x":531.25,"y":0.913},{"s":"fit","x":531.5,"y":0.82},{"s":"fit","x":531.75,"y":0.708},{"s":"fit","x":532,"y":0.583},{"s":"fit","x":532.25,"y":0.47},{"s":"fit","x":532.5,"y":0.375},{"s":"fit","x":532.75,"y":0.3},{"s":"fit","x":533,"y":0.233},{"s":"fit","x":533.25,"y":0.183},{"s":"fit","x":533.5,"y":0.143},{"s":"fit","x":533.75,"y":0.112},{"s":"fit","x":534,"y":0.085},{"s":"fit","x":534.25,"y":0.067},{"s":"fit","x":534.5,"y":0.05},{"s":"fit","x":534.75,"y":0.038},{"s":"fit","x":535,"y":0.028},{"s":"fit","x":535.25,"y":0.021},{"s":"fit","x":535.5,"y":0.015},{"s":"fit","x":535.75,"y":0.011},{"s":"fit","x":536,"y":0.008},{"s":"fit","x":536.2,"y":0.006}
]
},
"vconcat":[
{"hconcat":[
 {"width":244,"height":194,
  "encoding":{"x":{"field":"x","type":"quantitative","scale":{"domain":[130,150],"nice":false,"zero":false},"axis":{"title":"Binding energy (eV)","values":[130,132.5,135,137.5,140,142.5,145,147.5,150],"labelExpr":"datum.value % 5 === 0 ? datum.label : ''"}},
   "y":{"field":"y","type":"quantitative","scale":{"domain":[-0.01,1.04],"nice":false,"zero":false},"axis":{"title":"Intensity (a.u)","values":[0,0.1,0.2,0.3,0.4,0.5,0.6,0.7,0.8,0.9,1],"labelExpr":"round(datum.value*10) % 2 === 0 ? format(datum.value, '.1f') : ''"}}},
  "layer":[
   {"data":{"name":"ra"},"mark":{"type":"line","strokeWidth":1.2},"encoding":{"stroke":{"datum":"Eu 4d","type":"nominal","scale":{"range":["black"]},"legend":{"title":"NEWO","titlePadding":5}}}},
   {"data":{"name":"ca"},"transform":[{"filter":"datum.s !== 'fit'"}],"mark":{"type":"line","strokeWidth":1.5,"interpolate":"monotone"},"encoding":{"color":{"field":"s","type":"nominal","scale":{"domain":["Ea","Eb","Ec","Ed","Olat","Oads"],"range":["#22e622","#2020c8","#ee22ee","#ff8a28","#2020c8","#6e6e40"]},"legend":null}}},
   {"data":{"name":"ca"},"transform":[{"filter":"datum.s === 'fit'"}],"mark":{"type":"line","strokeWidth":2,"interpolate":"monotone","color":"#ee1111"},"encoding":{}},
   {"data":{"name":"labels"},"transform":[{"filter":"datum.p === 'a' && datum.k === 'E'"}],"mark":{"type":"text","align":"right","baseline":"middle","fontSize":12},"encoding":{"text":{"field":"t"}}},
   {"data":{"name":"labels"},"transform":[{"filter":"datum.p === 'a' && datum.k === 'E'"}],"mark":{"type":"text","align":"left","baseline":"middle","fontSize":9,"dy":4},"encoding":{"text":{"field":"u"}}},
   {"data":{"name":"labels"},"transform":[{"filter":"datum.p === 'a' && datum.k === 'nsub'"}],"mark":{"type":"text","align":"left","baseline":"middle","fontSize":9.5},"encoding":{"text":{"field":"t"}}},
   {"data":{"name":"labels"},"transform":[{"filter":"datum.p === 'a' && datum.k === 'tag'"}],"mark":{"type":"text","align":"center","baseline":"middle","fontSize":23},"encoding":{"text":{"field":"t"}}}
  ]},
 {"width":240,"height":194,
  "encoding":{"x":{"field":"x","type":"quantitative","scale":{"domain":[526,536],"nice":false,"zero":false},"axis":{"title":"Binding energy (eV)","values":[526,527,528,529,530,531,532,533,534,535,536],"labelExpr":"datum.value % 2 === 0 ? datum.label : ''"}},
   "y":{"field":"y","type":"quantitative","scale":{"domain":[-0.01,1.04],"nice":false,"zero":false},"axis":{"title":"Intensity (a.u)","values":[0,0.1,0.2,0.3,0.4,0.5,0.6,0.7,0.8,0.9,1],"labelExpr":"round(datum.value*10) % 2 === 0 ? format(datum.value, '.1f') : ''"}}},
  "layer":[
   {"data":{"name":"rb"},"mark":{"type":"line","strokeWidth":1.2},"encoding":{"stroke":{"datum":"O 1s","type":"nominal","scale":{"range":["black"]},"legend":{"title":"NEWO","titleFontSize":11,"titlePadding":1}}}},
   {"data":{"name":"cb"},"transform":[{"filter":"datum.s !== 'fit'"}],"mark":{"type":"line","strokeWidth":1.5,"interpolate":"monotone"},"encoding":{"color":{"field":"s","type":"nominal","scale":{"domain":["Ea","Eb","Ec","Ed","Olat","Oads"],"range":["#22e622","#2020c8","#ee22ee","#ff8a28","#2020c8","#6e6e40"]},"legend":null}}},
   {"data":{"name":"cb"},"transform":[{"filter":"datum.s === 'fit'"}],"mark":{"type":"line","strokeWidth":2,"interpolate":"monotone","color":"#ee1111"},"encoding":{}},
   {"data":{"name":"labels"},"transform":[{"filter":"datum.p === 'b' && datum.k === 'O'"}],"mark":{"type":"text","align":"right","baseline":"middle","fontSize":12},"encoding":{"text":{"field":"t"}}},
   {"data":{"name":"labels"},"transform":[{"filter":"datum.p === 'b' && datum.k === 'O'"}],"mark":{"type":"text","align":"left","baseline":"middle","fontSize":7,"dy":4},"encoding":{"text":{"field":"u"}}},
   {"data":{"name":"labels"},"transform":[{"filter":"datum.p === 'b' && datum.k === 'ads'"}],"mark":{"type":"text","align":"center","baseline":"middle","fontSize":11},"encoding":{"text":{"field":"t"}}},
   {"data":{"name":"labels"},"transform":[{"filter":"datum.p === 'b' && datum.k === 'nsub'"}],"mark":{"type":"text","align":"left","baseline":"middle","fontSize":7},"encoding":{"text":{"field":"t"}}},
   {"data":{"name":"labels"},"transform":[{"filter":"datum.p === 'b' && datum.k === 'tag'"}],"mark":{"type":"text","align":"center","baseline":"middle","fontSize":23},"encoding":{"text":{"field":"t"}}}
  ]}
 ],"spacing":3,"resolve":{"scale":{"stroke":"independent"},"legend":{"stroke":"independent"}}},
{"hconcat":[
 {"width":244,"height":194,
  "encoding":{"x":{"field":"x","type":"quantitative","scale":{"domain":[130,150],"nice":false,"zero":false},"axis":{"title":"Binding energy (eV)","values":[130,132.5,135,137.5,140,142.5,145,147.5,150],"labelExpr":"datum.value % 5 === 0 ? datum.label : ''"}},
   "y":{"field":"y","type":"quantitative","scale":{"domain":[-0.01,1.04],"nice":false,"zero":false},"axis":{"title":"Intensity (a.u)","values":[0,0.1,0.2,0.3,0.4,0.5,0.6,0.7,0.8,0.9,1],"labelExpr":"round(datum.value*10) % 2 === 0 ? format(datum.value, '.1f') : ''"}}},
  "layer":[
   {"data":{"name":"rc"},"mark":{"type":"line","strokeWidth":1.2},"encoding":{"stroke":{"datum":"Eu 4d","type":"nominal","scale":{"range":["black"]},"legend":{"title":"NEWO","titlePadding":5}}}},
   {"data":{"name":"cc"},"transform":[{"filter":"datum.s !== 'fit'"}],"mark":{"type":"line","strokeWidth":1.5,"interpolate":"monotone"},"encoding":{"color":{"field":"s","type":"nominal","scale":{"domain":["Ea","Eb","Ec","Ed","Olat","Oads"],"range":["#22e622","#2020c8","#ee22ee","#ff8a28","#2020c8","#6e6e40"]},"legend":null}}},
   {"data":{"name":"cc"},"transform":[{"filter":"datum.s === 'fit'"}],"mark":{"type":"line","strokeWidth":2,"interpolate":"monotone","color":"#ee1111"},"encoding":{}},
   {"data":{"name":"labels"},"transform":[{"filter":"datum.p === 'c' && datum.k === 'E'"}],"mark":{"type":"text","align":"right","baseline":"middle","fontSize":12},"encoding":{"text":{"field":"t"}}},
   {"data":{"name":"labels"},"transform":[{"filter":"datum.p === 'c' && datum.k === 'E'"}],"mark":{"type":"text","align":"left","baseline":"middle","fontSize":9,"dy":4},"encoding":{"text":{"field":"u"}}},
   {"data":{"name":"labels"},"transform":[{"filter":"datum.p === 'c' && datum.k === 'nsub'"}],"mark":{"type":"text","align":"left","baseline":"middle","fontSize":9.5},"encoding":{"text":{"field":"t"}}},
   {"data":{"name":"labels"},"transform":[{"filter":"datum.p === 'c' && datum.k === 'tag'"}],"mark":{"type":"text","align":"center","baseline":"middle","fontSize":23},"encoding":{"text":{"field":"t"}}}
  ]},
 {"width":243,"height":194,
  "encoding":{"x":{"field":"x","type":"quantitative","scale":{"domain":[526,536],"nice":false,"zero":false},"axis":{"title":"Binding energy (eV)","values":[526,527,528,529,530,531,532,533,534,535,536],"labelExpr":"datum.value % 2 === 0 ? datum.label : ''"}},
   "y":{"field":"y","type":"quantitative","scale":{"domain":[-0.01,1.04],"nice":false,"zero":false},"axis":{"title":"Intensity (a.u)","values":[0,0.1,0.2,0.3,0.4,0.5,0.6,0.7,0.8,0.9,1],"labelExpr":"round(datum.value*10) % 2 === 0 ? format(datum.value, '.1f') : ''"}}},
  "layer":[
   {"data":{"name":"rd"},"mark":{"type":"line","strokeWidth":1.2},"encoding":{"stroke":{"datum":"O 1s","type":"nominal","scale":{"range":["black"]},"legend":{"title":"NEWO","titleFontSize":11,"titlePadding":1}}}},
   {"data":{"name":"cd"},"transform":[{"filter":"datum.s !== 'fit'"}],"mark":{"type":"line","strokeWidth":1.5,"interpolate":"monotone"},"encoding":{"color":{"field":"s","type":"nominal","scale":{"domain":["Ea","Eb","Ec","Ed","Olat","Oads"],"range":["#22e622","#2020c8","#ee22ee","#ff8a28","#2020c8","#6e6e40"]},"legend":null}}},
   {"data":{"name":"cd"},"transform":[{"filter":"datum.s === 'fit'"}],"mark":{"type":"line","strokeWidth":2,"interpolate":"monotone","color":"#ee1111"},"encoding":{}},
   {"data":{"name":"labels"},"transform":[{"filter":"datum.p === 'd' && datum.k === 'O'"}],"mark":{"type":"text","align":"right","baseline":"middle","fontSize":12},"encoding":{"text":{"field":"t"}}},
   {"data":{"name":"labels"},"transform":[{"filter":"datum.p === 'd' && datum.k === 'O'"}],"mark":{"type":"text","align":"left","baseline":"middle","fontSize":7,"dy":4},"encoding":{"text":{"field":"u"}}},
   {"data":{"name":"labels"},"transform":[{"filter":"datum.p === 'd' && datum.k === 'ads'"}],"mark":{"type":"text","align":"center","baseline":"middle","fontSize":11},"encoding":{"text":{"field":"t"}}},
   {"data":{"name":"labels"},"transform":[{"filter":"datum.p === 'd' && datum.k === 'nsub'"}],"mark":{"type":"text","align":"left","baseline":"middle","fontSize":7},"encoding":{"text":{"field":"t"}}},
   {"data":{"name":"labels"},"transform":[{"filter":"datum.p === 'd' && datum.k === 'tag'"}],"mark":{"type":"text","align":"center","baseline":"middle","fontSize":23},"encoding":{"text":{"field":"t"}}}
  ]}
 ],"spacing":3,"resolve":{"scale":{"stroke":"independent"},"legend":{"stroke":"independent"}}},
{"hconcat":[
 {"width":241,"height":191,
  "encoding":{"x":{"field":"x","type":"quantitative","scale":{"domain":[130,150],"nice":false,"zero":false},"axis":{"title":"Binding energy (eV)","values":[130,132.5,135,137.5,140,142.5,145,147.5,150],"labelExpr":"datum.value % 5 === 0 ? datum.label : ''"}},
   "y":{"field":"y","type":"quantitative","scale":{"domain":[-0.01,1.04],"nice":false,"zero":false},"axis":{"title":"Intensity (a.u)","values":[0,0.1,0.2,0.3,0.4,0.5,0.6,0.7,0.8,0.9,1],"labelExpr":"round(datum.value*10) % 2 === 0 ? format(datum.value, '.1f') : ''"}}},
  "layer":[
   {"data":{"name":"re"},"mark":{"type":"line","strokeWidth":1.2},"encoding":{"stroke":{"datum":"Eu 4d","type":"nominal","scale":{"range":["black"]},"legend":{"title":"NEWO","titlePadding":5}}}},
   {"data":{"name":"ce"},"transform":[{"filter":"datum.s !== 'fit'"}],"mark":{"type":"line","strokeWidth":1.5,"interpolate":"monotone"},"encoding":{"color":{"field":"s","type":"nominal","scale":{"domain":["Ea","Eb","Ec","Ed","Olat","Oads"],"range":["#22e622","#2020c8","#ee22ee","#ff8a28","#2020c8","#6e6e40"]},"legend":null}}},
   {"data":{"name":"ce"},"transform":[{"filter":"datum.s === 'fit'"}],"mark":{"type":"line","strokeWidth":2,"interpolate":"monotone","color":"#ee1111"},"encoding":{}},
   {"data":{"name":"labels"},"transform":[{"filter":"datum.p === 'e' && datum.k === 'E'"}],"mark":{"type":"text","align":"right","baseline":"middle","fontSize":12},"encoding":{"text":{"field":"t"}}},
   {"data":{"name":"labels"},"transform":[{"filter":"datum.p === 'e' && datum.k === 'E'"}],"mark":{"type":"text","align":"left","baseline":"middle","fontSize":9,"dy":4},"encoding":{"text":{"field":"u"}}},
   {"data":{"name":"labels"},"transform":[{"filter":"datum.p === 'e' && datum.k === 'nsub'"}],"mark":{"type":"text","align":"left","baseline":"middle","fontSize":9.5},"encoding":{"text":{"field":"t"}}},
   {"data":{"name":"labels"},"transform":[{"filter":"datum.p === 'e' && datum.k === 'tag'"}],"mark":{"type":"text","align":"center","baseline":"middle","fontSize":23},"encoding":{"text":{"field":"t"}}}
  ]},
 {"width":244,"height":191,
  "encoding":{"x":{"field":"x","type":"quantitative","scale":{"domain":[526,536.2],"nice":false,"zero":false},"axis":{"title":"Binding energy (eV)","values":[526,527,528,529,530,531,532,533,534,535,536],"labelExpr":"datum.value % 2 === 0 ? datum.label : ''"}},
   "y":{"field":"y","type":"quantitative","scale":{"domain":[-0.01,1.04],"nice":false,"zero":false},"axis":{"title":"Intensity (a.u)","values":[0,0.1,0.2,0.3,0.4,0.5,0.6,0.7,0.8,0.9,1],"labelExpr":"round(datum.value*10) % 2 === 0 ? format(datum.value, '.1f') : ''"}}},
  "layer":[
   {"data":{"name":"rf"},"mark":{"type":"line","strokeWidth":1.2},"encoding":{"stroke":{"datum":"O 1s","type":"nominal","scale":{"range":["black"]},"legend":{"title":"NEWO","titleFontSize":11,"titlePadding":1}}}},
   {"data":{"name":"cf"},"transform":[{"filter":"datum.s !== 'fit'"}],"mark":{"type":"line","strokeWidth":1.5,"interpolate":"monotone"},"encoding":{"color":{"field":"s","type":"nominal","scale":{"domain":["Ea","Eb","Ec","Ed","Olat","Oads"],"range":["#22e622","#2020c8","#ee22ee","#ff8a28","#2020c8","#6e6e40"]},"legend":null}}},
   {"data":{"name":"cf"},"transform":[{"filter":"datum.s === 'fit'"}],"mark":{"type":"line","strokeWidth":2,"interpolate":"monotone","color":"#ee1111"},"encoding":{}},
   {"data":{"name":"labels"},"transform":[{"filter":"datum.p === 'f' && datum.k === 'O'"}],"mark":{"type":"text","align":"right","baseline":"middle","fontSize":12},"encoding":{"text":{"field":"t"}}},
   {"data":{"name":"labels"},"transform":[{"filter":"datum.p === 'f' && datum.k === 'O'"}],"mark":{"type":"text","align":"left","baseline":"middle","fontSize":7,"dy":4},"encoding":{"text":{"field":"u"}}},
   {"data":{"name":"labels"},"transform":[{"filter":"datum.p === 'f' && datum.k === 'ads'"}],"mark":{"type":"text","align":"center","baseline":"middle","fontSize":11},"encoding":{"text":{"field":"t"}}},
   {"data":{"name":"labels"},"transform":[{"filter":"datum.p === 'f' && datum.k === 'nsub'"}],"mark":{"type":"text","align":"left","baseline":"middle","fontSize":7},"encoding":{"text":{"field":"t"}}},
   {"data":{"name":"labels"},"transform":[{"filter":"datum.p === 'f' && datum.k === 'tag'"}],"mark":{"type":"text","align":"center","baseline":"middle","fontSize":23},"encoding":{"text":{"field":"t"}}}
  ]}
 ],"spacing":3,"resolve":{"scale":{"stroke":"independent"},"legend":{"stroke":"independent"}}}
]
}
